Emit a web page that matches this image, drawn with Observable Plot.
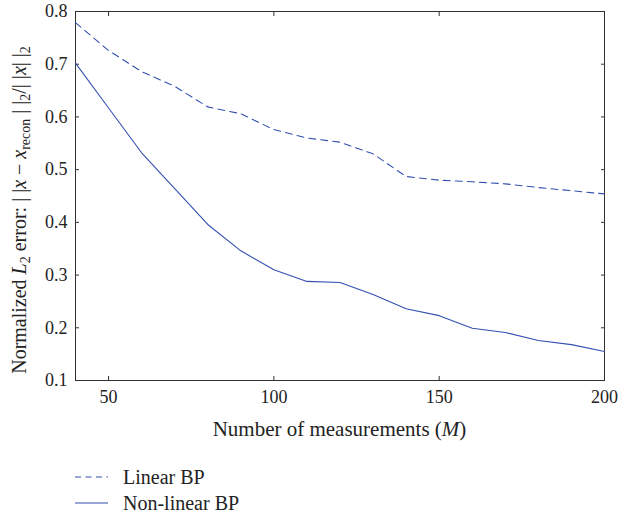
<!DOCTYPE html>
<html>
<head>
<meta charset="utf-8">
<script src="https://cdn.jsdelivr.net/npm/d3@7"></script>
<script src="https://cdn.jsdelivr.net/npm/@observablehq/plot@0.6"></script>
<style>
  html, body { margin: 0; padding: 0; background: #fff; }
  body { width: 620px; height: 515px; overflow: hidden; font-family: "Liberation Serif", "DejaVu Serif", serif; color: #222; }
  #legend { margin-left: 75px; }
  .row { height: 26px; display: flex; align-items: center; font-size: 20px; }
  .row svg { margin-right: 15px; }
</style>
</head>
<body>
<div id="chart"></div>
<div id="legend"></div>
<script>
const measurements = [40, 50, 60, 70, 80, 90, 100, 110, 120, 130, 140, 150, 160, 170, 180, 190, 200];
const linearBP = [0.779, 0.726, 0.686, 0.658, 0.619, 0.606, 0.576, 0.560, 0.552, 0.530, 0.487, 0.480, 0.477, 0.473, 0.466, 0.460, 0.454];
const nonlinearBP = [0.702, 0.617, 0.532, 0.464, 0.396, 0.346, 0.310, 0.288, 0.286, 0.263, 0.236, 0.223, 0.199, 0.191, 0.176, 0.168, 0.155];
const seriesNames = ["Linear BP", "Non-linear BP"];
const xTicks = [50, 100, 150, 200];
const yTicks = [0.1, 0.2, 0.3, 0.4, 0.5, 0.6, 0.7, 0.8];

const blue = "#3350b0";
const linData = measurements.map((m, i) => ({m, v: linearBP[i]}));
const nonData = measurements.map((m, i) => ({m, v: nonlinearBP[i]}));

const plot = Plot.plot({
  width: 620,
  height: 464,
  marginLeft: 75,
  marginRight: 16,
  marginTop: 11,
  marginBottom: 84,
  style: {fontFamily: "Liberation Serif, DejaVu Serif, serif", fontSize: "18px", color: "#222", background: "#fff"},
  x: {domain: [40, 200]},
  y: {domain: [0.1, 0.8]},
  marks: [
    Plot.frame({stroke: "#333", strokeWidth: 1}),
    Plot.axisX(xTicks, {anchor: "bottom", tickSize: 4, dy: -4, stroke: "#333", text: null, label: null}),
    Plot.axisX(xTicks, {anchor: "top", tickSize: 4, dy: 4, stroke: "#333", text: null, label: null}),
    Plot.axisY(yTicks, {anchor: "left", tickSize: 4, dx: 4, stroke: "#333", text: null, label: null}),
    Plot.axisY(yTicks, {anchor: "right", tickSize: 4, dx: -4, stroke: "#333", text: null, label: null}),
    Plot.axisX(xTicks, {anchor: "bottom", tickSize: 0, tickPadding: 10, fill: "#222", fontSize: 18, label: null}),
    Plot.axisY(yTicks, {anchor: "left", tickSize: 0, tickPadding: 8, fill: "#222", fontSize: 18, label: null, tickFormat: d3.format(".1f")}),
    Plot.line(linData, {x: "m", y: "v", stroke: blue, strokeWidth: 1.1, strokeDasharray: "7,5"}),
    Plot.line(nonData, {x: "m", y: "v", stroke: blue, strokeWidth: 1.1})
  ]
});
document.getElementById("chart").appendChild(plot);

const svg = d3.select(plot);
// x-axis label
const xl = svg.append("text")
  .attr("x", 339.5).attr("y", 436)
  .attr("text-anchor", "middle")
  .attr("fill", "#222")
  .style("font-size", "21px");
xl.append("tspan").text("Number of measurements (");
xl.append("tspan").attr("font-style", "italic").text("M");
xl.append("tspan").text(")");

// y-axis label
const yl = svg.append("text")
  .attr("transform", "translate(26,210) rotate(-90)")
  .attr("text-anchor", "middle")
  .attr("fill", "#222")
  .style("font-size", "20px");
yl.append("tspan").text("Normalized ");
yl.append("tspan").attr("font-style", "italic").text("L");
yl.append("tspan").attr("font-size", "14px").attr("dy", 4).text("2");
yl.append("tspan").attr("dy", -4).text(" error: | |");
yl.append("tspan").attr("font-style", "italic").text("x");
yl.append("tspan").text(" − ");
yl.append("tspan").attr("font-style", "italic").text("x");
yl.append("tspan").attr("font-size", "14px").attr("dy", 4).text("recon");
yl.append("tspan").attr("dy", -4).text(" | |");
yl.append("tspan").attr("font-size", "14px").attr("dy", 4).text("2");
yl.append("tspan").attr("dy", -4).text("/| |");
yl.append("tspan").attr("font-style", "italic").text("x");
yl.append("tspan").text("| |");
yl.append("tspan").attr("font-size", "14px").attr("dy", 4).text("2");

// legend
const legend = d3.select("#legend");
const styles = [{dash: "7,5"}, {dash: null}];
seriesNames.forEach((name, i) => {
  const row = legend.append("div").attr("class", "row");
  const s = row.append("svg").attr("width", 33).attr("height", 10);
  const ln = s.append("line").attr("x1", 0).attr("x2", 33).attr("y1", 5).attr("y2", 5)
    .attr("stroke", blue).attr("stroke-width", 1.1);
  if (styles[i].dash) ln.attr("stroke-dasharray", "6,4.5");
  row.append("span").text(name);
});
</script>
</body>
</html>
